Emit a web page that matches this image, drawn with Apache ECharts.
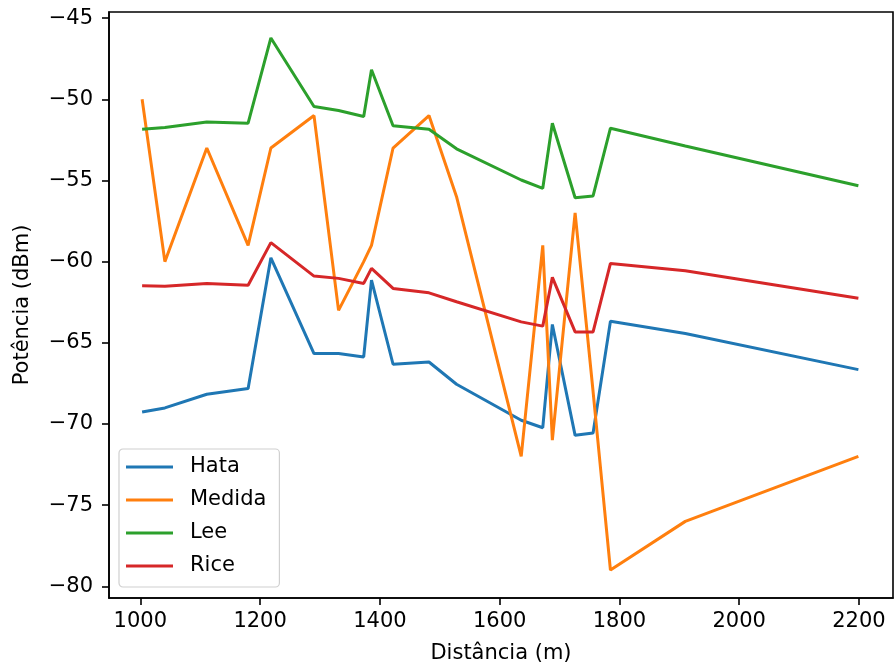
<!DOCTYPE html>
<html>
<head>
<meta charset="utf-8">
<script src="https://cdn.jsdelivr.net/npm/echarts@6/dist/echarts.min.js"></script>
<style>
html,body{margin:0;padding:0;background:#fff;}
#chart{width:895px;height:665px;}
</style>
</head>
<body>
<div id="chart"></div>
<script>
const distance = [1003, 1041, 1111, 1180, 1218, 1290, 1331, 1373, 1386, 1422, 1482, 1528, 1636, 1672, 1688, 1726, 1756, 1785, 1910, 2199];
const hata   = [-69.26, -69.01, -68.17, -67.82, -59.76, -65.66, -65.66, -65.87, -61.14, -66.32, -66.18, -67.55, -69.77, -70.23, -63.87, -70.70, -70.56, -63.67, -64.43, -66.65];
const medida = [-50, -60, -53, -59, -53, -51, -63, -60, -59, -53, -51, -56, -72, -59, -71, -57, -68, -79, -76, -72];
const lee    = [-51.84, -51.74, -51.39, -51.47, -46.22, -50.44, -50.69, -51.06, -48.18, -51.63, -51.84, -53.05, -54.97, -55.48, -51.47, -56.06, -55.95, -51.78, -52.87, -55.32];
const rice   = [-61.49, -61.51, -61.34, -61.45, -58.83, -60.89, -61.03, -61.34, -60.41, -61.65, -61.92, -62.47, -63.71, -63.97, -60.97, -64.33, -64.33, -60.11, -60.56, -62.25];
const xTicks = [1000, 1200, 1400, 1600, 1800, 2000, 2200];
const yTicks = [-80, -75, -70, -65, -60, -55, -50, -45];
const seriesNames = ['Hata', 'Medida', 'Lee', 'Rice'];
const seriesColors = ['#1f77b4', '#ff7f0e', '#2ca02c', '#d62728'];

const FONT = 'DejaVu Sans';
const FS = 21;
const allData = [hata, medida, lee, rice];

const chart = echarts.init(document.getElementById('chart'), null, {renderer: 'canvas'});
const fmtY = v => (v < 0 ? '\u2212' : '') + Math.abs(v);
const fmtX = v => String(v);

chart.setOption({
  animation: false,
  backgroundColor: '#fff',
  textStyle: {fontFamily: FONT},
  grid: {left: 109, right: 2, top: 12, bottom: 67, containLabel: false, outerBoundsMode: 'none', show: true, borderColor: '#000', borderWidth: 1.6, backgroundColor: 'transparent'},
  legend: {
    orient: 'vertical',
    left: 119, top: 449,
    icon: 'rect',
    itemWidth: 47, itemHeight: 3,
    itemGap: 11,
    padding: [7, 13, 10, 7],
    backgroundColor: 'rgba(255,255,255,0.8)',
    borderColor: '#d0d0d0', borderWidth: 1.2, borderRadius: 4,
    textStyle: {fontFamily: FONT, fontSize: FS, color: '#000', lineHeight: 22, padding: [0, 0, 0, 12]},
    data: seriesNames
  },
  xAxis: {
    type: 'value',
    min: 947.7, max: 2256.8,
    name: 'Distância (m)',
    nameLocation: 'middle', nameGap: 45,
    nameTextStyle: {fontFamily: FONT, fontSize: FS, color: '#000'},
    axisLine: {show: true, lineStyle: {color: '#000', width: 1.6}},
    axisTick: {show: true, length: 7, lineStyle: {color: '#000', width: 1.6}, customValues: xTicks},
    axisLabel: {fontFamily: FONT, fontSize: FS, color: '#000', margin: 13, formatter: fmtX, customValues: xTicks},
    splitLine: {show: false}
  },
  yAxis: {
    type: 'value',
    min: -80.72, max: -44.62,
    name: 'Potência (dBm)',
    nameLocation: 'middle', nameGap: 76,
    nameTextStyle: {fontFamily: FONT, fontSize: FS, color: '#000'},
    axisLine: {show: true, lineStyle: {color: '#000', width: 1.6}},
    axisTick: {show: true, length: 7, lineStyle: {color: '#000', width: 1.6}, customValues: yTicks},
    axisLabel: {fontFamily: FONT, fontSize: FS, color: '#000', margin: 16, formatter: fmtY, customValues: yTicks},
    splitLine: {show: false}
  },
  series: seriesNames.map((n, i) => ({
    name: n,
    type: 'line',
    showSymbol: false,
    symbol: 'none',
    color: seriesColors[i],
    lineStyle: {width: 3, color: seriesColors[i]},
    data: distance.map((d, k) => [d, allData[i][k]])
  }))
});
</script>
</body>
</html>
